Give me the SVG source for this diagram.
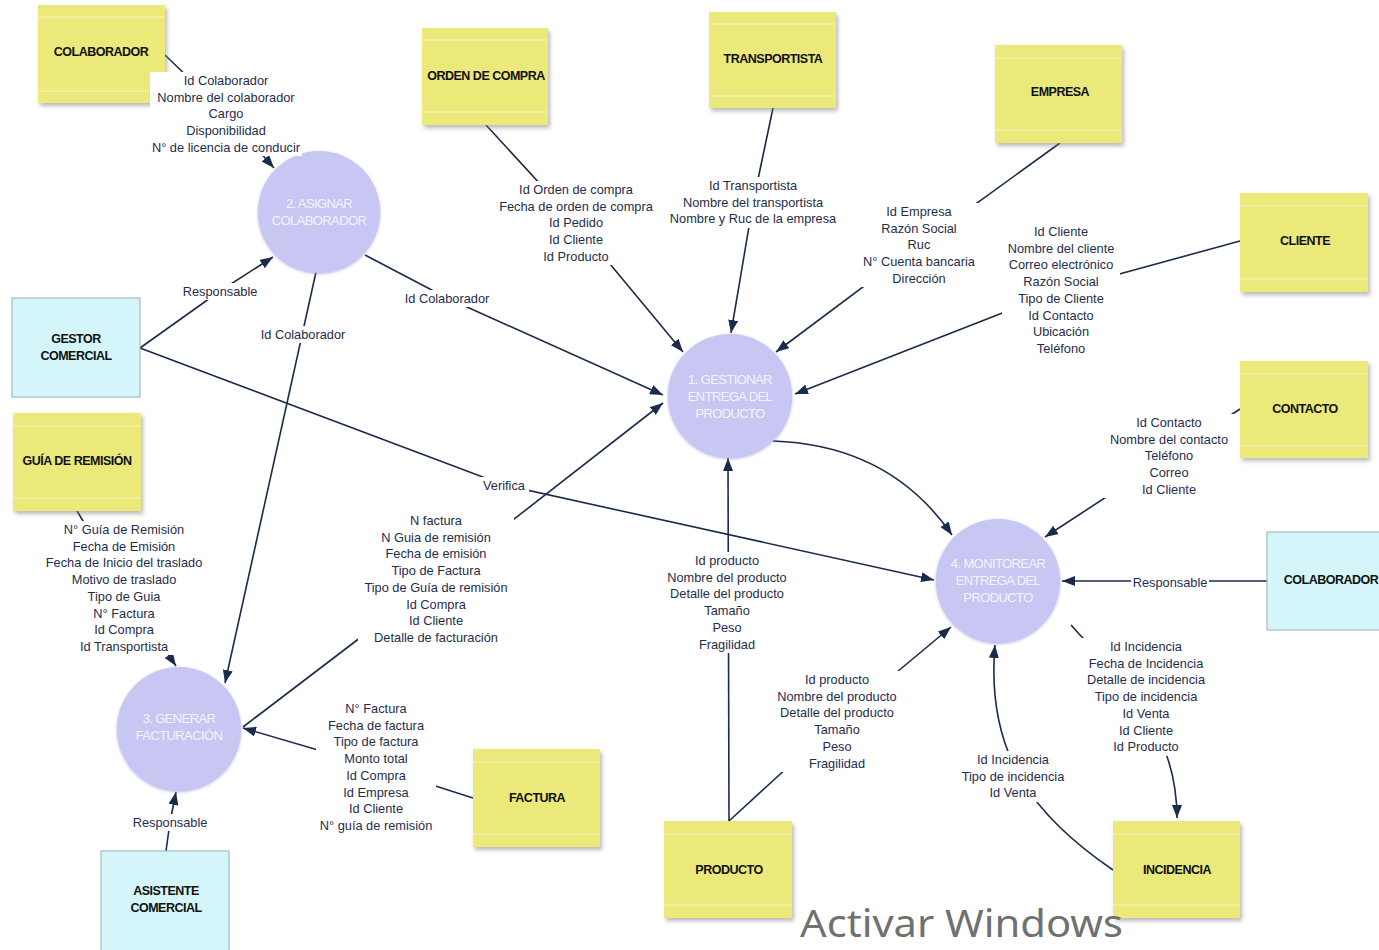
<svg xmlns="http://www.w3.org/2000/svg" width="1379" height="950" viewBox="0 0 1379 950">
  <style>
    .store rect.body { fill: #EBE979; }
    .store line.band { stroke: #F7F5BE; stroke-width: 1.2; }
    .ext rect { fill: #D4F6FB; stroke: #9DBFC8; stroke-width: 1.2; }
    .proc circle { fill: #C8C6F2; }
    .ntxt { font-family: "Liberation Sans", Arial, sans-serif; font-size: 12.5px; font-weight: bold; fill: #111111; text-anchor: middle; letter-spacing: -0.5px; }
    .ptxt { font-family: "Liberation Sans", Arial, sans-serif; font-size: 13px; fill: #F4F4FF; text-anchor: middle; letter-spacing: -0.6px; }
    .flow { fill: none; stroke: #1B2B4B; stroke-width: 1.6; }
    .arr { marker-end: url(#head); }
    .lbl rect { fill: #FFFFFF; }
    .lbl text { font-family: "Liberation Sans", Arial, sans-serif; font-size: 12.8px; fill: #1F2D4D; text-anchor: middle; }
    .wm { font-family: "Noto Sans", "Open Sans", sans-serif; font-size: 38px; fill: #707070; }
  </style>
  <defs>
    <marker id="head" markerUnits="userSpaceOnUse" markerWidth="13" markerHeight="10" refX="13" refY="5" orient="auto">
      <path d="M0,0 L13,5 L0,10 z" fill="#1B2B4B"/>
    </marker>
    <filter id="shadow" x="-10%" y="-10%" width="125%" height="130%">
      <feDropShadow dx="2" dy="3" stdDeviation="2" flood-color="#808080" flood-opacity="0.55"/>
    </filter>
    <filter id="soft" x="-15%" y="-15%" width="130%" height="130%">
      <feDropShadow dx="0" dy="1" stdDeviation="1.6" flood-color="#9A98D8" flood-opacity="0.7"/>
    </filter>
  </defs>

  <rect width="1379" height="950" fill="#FFFFFF"/>

  <!-- data flows -->
  <g id="connectors">
    <polyline class="flow arr" points="165,55 226,114 274,168"/>
    <polyline class="flow arr" points="140,348 220,291 273,257"/>
    <polyline class="flow arr" points="365,255 447,298 663,395"/>
    <line class="flow arr" x1="316" y1="272" x2="225" y2="683"/>
    <polyline class="flow arr" points="140,348 504,485 934,580"/>
    <polyline class="flow arr" points="486,125 576,223 683,352"/>
    <polyline class="flow arr" points="773,108 753,203 731,333"/>
    <polyline class="flow arr" points="1060,143 919,245 776,352"/>
    <polyline class="flow arr" points="1240,241 1061,290 795,394"/>
    <path class="flow arr" d="M773,441 Q890,445 952,535"/>
    <line class="flow arr" x1="729" y1="821" x2="728" y2="458"/>
    <polyline class="flow arr" points="729,821 837,722 951,627"/>
    <path class="flow arr" d="M1071,625 C1110,670 1177,720 1177,818"/>
    <path class="flow arr" d="M1113,870 C1040,820 985,760 995,645"/>
    <polyline class="flow arr" points="1240,409 1169,456 1045,537"/>
    <line class="flow arr" x1="1267" y1="581" x2="1062" y2="581"/>
    <polyline class="flow arr" points="77,511 124,589 176,666"/>
    <polyline class="flow arr" points="473,798 376,767 243,728"/>
    <polyline class="flow arr" points="243,727 436,580 663,403"/>
    <polyline class="flow arr" points="166,851 170,822 176,792"/>
  </g>

  <!-- data stores -->
  <g id="colaborador-store" class="store">
    <rect class="body" x="38" y="5" width="127" height="98" filter="url(#shadow)"/>
    <line class="band" x1="38" y1="17" x2="165" y2="17"/><line class="band" x1="38" y1="91" x2="165" y2="91"/>
    <text class="ntxt" x="101" y="56">COLABORADOR</text>
  </g>
  <g id="orden-compra" class="store">
    <rect class="body" x="422" y="28" width="126" height="97" filter="url(#shadow)"/>
    <line class="band" x1="422" y1="40" x2="548" y2="40"/><line class="band" x1="422" y1="112" x2="548" y2="112"/>
    <text class="ntxt" x="486" y="80">ORDEN DE COMPRA</text>
  </g>
  <g id="transportista" class="store">
    <rect class="body" x="709" y="12" width="127" height="96" filter="url(#shadow)"/>
    <line class="band" x1="709" y1="24" x2="836" y2="24"/><line class="band" x1="709" y1="96" x2="836" y2="96"/>
    <text class="ntxt" x="773" y="63">TRANSPORTISTA</text>
  </g>
  <g id="empresa" class="store">
    <rect class="body" x="995" y="45" width="127" height="98" filter="url(#shadow)"/>
    <line class="band" x1="995" y1="58" x2="1122" y2="58"/><line class="band" x1="995" y1="130" x2="1122" y2="130"/>
    <text class="ntxt" x="1060" y="96">EMPRESA</text>
  </g>
  <g id="cliente" class="store">
    <rect class="body" x="1240" y="193" width="128" height="99" filter="url(#shadow)"/>
    <line class="band" x1="1240" y1="206" x2="1368" y2="206"/><line class="band" x1="1240" y1="279" x2="1368" y2="279"/>
    <text class="ntxt" x="1305" y="245">CLIENTE</text>
  </g>
  <g id="contacto" class="store">
    <rect class="body" x="1240" y="361" width="128" height="97" filter="url(#shadow)"/>
    <line class="band" x1="1240" y1="374" x2="1368" y2="374"/><line class="band" x1="1240" y1="446" x2="1368" y2="446"/>
    <text class="ntxt" x="1305" y="413">CONTACTO</text>
  </g>
  <g id="guia-remision" class="store">
    <rect class="body" x="13" y="413" width="128" height="98" filter="url(#shadow)"/>
    <line class="band" x1="13" y1="426" x2="141" y2="426"/><line class="band" x1="13" y1="498" x2="141" y2="498"/>
    <text class="ntxt" x="77" y="465">GUÍA DE REMISIÓN</text>
  </g>
  <g id="factura" class="store">
    <rect class="body" x="473" y="749" width="127" height="98" filter="url(#shadow)"/>
    <line class="band" x1="473" y1="762" x2="600" y2="762"/><line class="band" x1="473" y1="834" x2="600" y2="834"/>
    <text class="ntxt" x="537" y="802">FACTURA</text>
  </g>
  <g id="producto" class="store">
    <rect class="body" x="664" y="821" width="128" height="97" filter="url(#shadow)"/>
    <line class="band" x1="664" y1="834" x2="792" y2="834"/><line class="band" x1="664" y1="905" x2="792" y2="905"/>
    <text class="ntxt" x="729" y="874">PRODUCTO</text>
  </g>
  <g id="incidencia" class="store">
    <rect class="body" x="1113" y="821" width="127" height="97" filter="url(#shadow)"/>
    <line class="band" x1="1113" y1="834" x2="1240" y2="834"/><line class="band" x1="1113" y1="905" x2="1240" y2="905"/>
    <text class="ntxt" x="1177" y="874">INCIDENCIA</text>
  </g>

  <!-- external entities -->
  <g id="gestor-comercial" class="ext">
    <rect x="12" y="298" width="128" height="99"/>
    <text class="ntxt" x="76" y="343">GESTOR</text>
    <text class="ntxt" x="76" y="360">COMERCIAL</text>
  </g>
  <g id="asistente-comercial" class="ext">
    <rect x="101" y="851" width="128" height="104"/>
    <text class="ntxt" x="166" y="895">ASISTENTE</text>
    <text class="ntxt" x="166" y="912">COMERCIAL</text>
  </g>
  <g id="colaborador-ext" class="ext">
    <rect x="1267" y="532" width="128" height="98"/>
    <text class="ntxt" x="1331" y="584">COLABORADOR</text>
  </g>

  <!-- processes -->
  <g id="p1-gestionar" class="proc">
    <circle cx="730" cy="396" r="62" filter="url(#soft)"/>
    <text class="ptxt" x="730" y="384">1. GESTIONAR</text>
    <text class="ptxt" x="730" y="401">ENTREGA DEL</text>
    <text class="ptxt" x="730" y="418">PRODUCTO</text>
  </g>
  <g id="p2-asignar" class="proc">
    <circle cx="319" cy="212" r="61" filter="url(#soft)"/>
    <text class="ptxt" x="319" y="208">2. ASIGNAR</text>
    <text class="ptxt" x="319" y="225">COLABORADOR</text>
  </g>
  <g id="p3-facturacion" class="proc">
    <circle cx="179" cy="729" r="62" filter="url(#soft)"/>
    <text class="ptxt" x="179" y="723">3. GENERAR</text>
    <text class="ptxt" x="179" y="740">FACTURACIÓN</text>
  </g>
  <g id="p4-monitorear" class="proc">
    <circle cx="998" cy="581" r="62" filter="url(#soft)"/>
    <text class="ptxt" x="998" y="568">4. MONITOREAR</text>
    <text class="ptxt" x="998" y="585">ENTREGA DEL</text>
    <text class="ptxt" x="998" y="602">PRODUCTO</text>
  </g>

  <!-- flow labels -->
  <g id="labels">
    <g class="lbl">
      <rect x="150" y="72" width="152" height="84"/>
      <text x="226"><tspan x="226" y="85">Id Colaborador</tspan><tspan x="226" y="101.7">Nombre del colaborador</tspan><tspan x="226" y="118.4">Cargo</tspan><tspan x="226" y="135.1">Disponibilidad</tspan><tspan x="226" y="151.8">N° de licencia de conducir</tspan></text>
    </g>
    <g class="lbl">
      <rect x="181" y="283" width="78" height="17"/>
      <text x="220" y="295.5">Responsable</text>
    </g>
    <g class="lbl">
      <rect x="401" y="290" width="92" height="17"/>
      <text x="447" y="302.5">Id Colaborador</text>
    </g>
    <g class="lbl">
      <rect x="257" y="326" width="92" height="17"/>
      <text x="303" y="338.5">Id Colaborador</text>
    </g>
    <g class="lbl">
      <rect x="496" y="181" width="162" height="84"/>
      <text><tspan x="576" y="194">Id Orden de compra</tspan><tspan x="576" y="210.7">Fecha de orden de compra</tspan><tspan x="576" y="227.4">Id Pedido</tspan><tspan x="576" y="244.1">Id Cliente</tspan><tspan x="576" y="260.8">Id Producto</tspan></text>
    </g>
    <g class="lbl">
      <rect x="666" y="177" width="174" height="51"/>
      <text><tspan x="753" y="190">Id Transportista</tspan><tspan x="753" y="206.7">Nombre del transportista</tspan><tspan x="753" y="223.4">Nombre y Ruc de la empresa</tspan></text>
    </g>
    <g class="lbl">
      <rect x="858" y="203" width="122" height="84"/>
      <text><tspan x="919" y="216">Id Empresa</tspan><tspan x="919" y="232.7">Razón Social</tspan><tspan x="919" y="249.4">Ruc</tspan><tspan x="919" y="266.1">N° Cuenta bancaria</tspan><tspan x="919" y="282.8">Dirección</tspan></text>
    </g>
    <g class="lbl">
      <rect x="1002" y="223" width="118" height="134"/>
      <text><tspan x="1061" y="236">Id Cliente</tspan><tspan x="1061" y="252.7">Nombre del cliente</tspan><tspan x="1061" y="269.4">Correo electrónico</tspan><tspan x="1061" y="286.1">Razón Social</tspan><tspan x="1061" y="302.8">Tipo de Cliente</tspan><tspan x="1061" y="319.5">Id Contacto</tspan><tspan x="1061" y="336.2">Ubicación</tspan><tspan x="1061" y="352.9">Teléfono</tspan></text>
    </g>
    <g class="lbl">
      <rect x="1104" y="414" width="131" height="84"/>
      <text><tspan x="1169" y="427">Id Contacto</tspan><tspan x="1169" y="443.7">Nombre del contacto</tspan><tspan x="1169" y="460.4">Teléfono</tspan><tspan x="1169" y="477.1">Correo</tspan><tspan x="1169" y="493.8">Id Cliente</tspan></text>
    </g>
    <g class="lbl">
      <rect x="1131" y="574" width="78" height="17"/>
      <text x="1170" y="586.5">Responsable</text>
    </g>
    <g class="lbl">
      <rect x="480" y="477" width="49" height="17"/>
      <text x="504" y="489.5">Verifica</text>
    </g>
    <g class="lbl">
      <rect x="661" y="552" width="132" height="101"/>
      <text><tspan x="727" y="565">Id producto</tspan><tspan x="727" y="581.7">Nombre del producto</tspan><tspan x="727" y="598.4">Detalle del producto</tspan><tspan x="727" y="615.1">Tamaño</tspan><tspan x="727" y="631.8">Peso</tspan><tspan x="727" y="648.5">Fragilidad</tspan></text>
    </g>
    <g class="lbl">
      <rect x="771" y="671" width="132" height="101"/>
      <text><tspan x="837" y="684">Id producto</tspan><tspan x="837" y="700.7">Nombre del producto</tspan><tspan x="837" y="717.4">Detalle del producto</tspan><tspan x="837" y="734.1">Tamaño</tspan><tspan x="837" y="750.8">Peso</tspan><tspan x="837" y="767.5">Fragilidad</tspan></text>
    </g>
    <g class="lbl">
      <rect x="1080" y="638" width="132" height="118"/>
      <text><tspan x="1146" y="651">Id Incidencia</tspan><tspan x="1146" y="667.7">Fecha de Incidencia</tspan><tspan x="1146" y="684.4">Detalle de incidencia</tspan><tspan x="1146" y="701.1">Tipo de incidencia</tspan><tspan x="1146" y="717.8">Id Venta</tspan><tspan x="1146" y="734.5">Id Cliente</tspan><tspan x="1146" y="751.2">Id Producto</tspan></text>
    </g>
    <g class="lbl">
      <rect x="956" y="751" width="114" height="51"/>
      <text><tspan x="1013" y="764">Id Incidencia</tspan><tspan x="1013" y="780.7">Tipo de incidencia</tspan><tspan x="1013" y="797.4">Id Venta</tspan></text>
    </g>
    <g class="lbl">
      <rect x="358" y="512" width="156" height="134"/>
      <text><tspan x="436" y="525">N factura</tspan><tspan x="436" y="541.7">N Guia de remisión</tspan><tspan x="436" y="558.4">Fecha de emisión</tspan><tspan x="436" y="575.1">Tipo de Factura</tspan><tspan x="436" y="591.8">Tipo de Guía de remisión</tspan><tspan x="436" y="608.5">Id Compra</tspan><tspan x="436" y="625.2">Id Cliente</tspan><tspan x="436" y="641.9">Detalle de facturación</tspan></text>
    </g>
    <g class="lbl">
      <rect x="40" y="521" width="168" height="134"/>
      <text><tspan x="124" y="534">N° Guía de Remisión</tspan><tspan x="124" y="550.7">Fecha de Emisión</tspan><tspan x="124" y="567.4">Fecha de Inicio del traslado</tspan><tspan x="124" y="584.1">Motivo de traslado</tspan><tspan x="124" y="600.8">Tipo de Guia</tspan><tspan x="124" y="617.5">N° Factura</tspan><tspan x="124" y="634.2">Id Compra</tspan><tspan x="124" y="650.9">Id Transportista</tspan></text>
    </g>
    <g class="lbl">
      <rect x="316" y="700" width="120" height="134"/>
      <text><tspan x="376" y="713">N° Factura</tspan><tspan x="376" y="729.7">Fecha de factura</tspan><tspan x="376" y="746.4">Tipo de factura</tspan><tspan x="376" y="763.1">Monto total</tspan><tspan x="376" y="779.8">Id Compra</tspan><tspan x="376" y="796.5">Id Empresa</tspan><tspan x="376" y="813.2">Id Cliente</tspan><tspan x="376" y="829.9">N° guía de remisión</tspan></text>
    </g>
    <g class="lbl">
      <rect x="131" y="814" width="78" height="17"/>
      <text x="170" y="826.5">Responsable</text>
    </g>
  </g>

  <text class="wm" x="800" y="937" textLength="323" lengthAdjust="spacingAndGlyphs">Activar Windows</text>
</svg>
